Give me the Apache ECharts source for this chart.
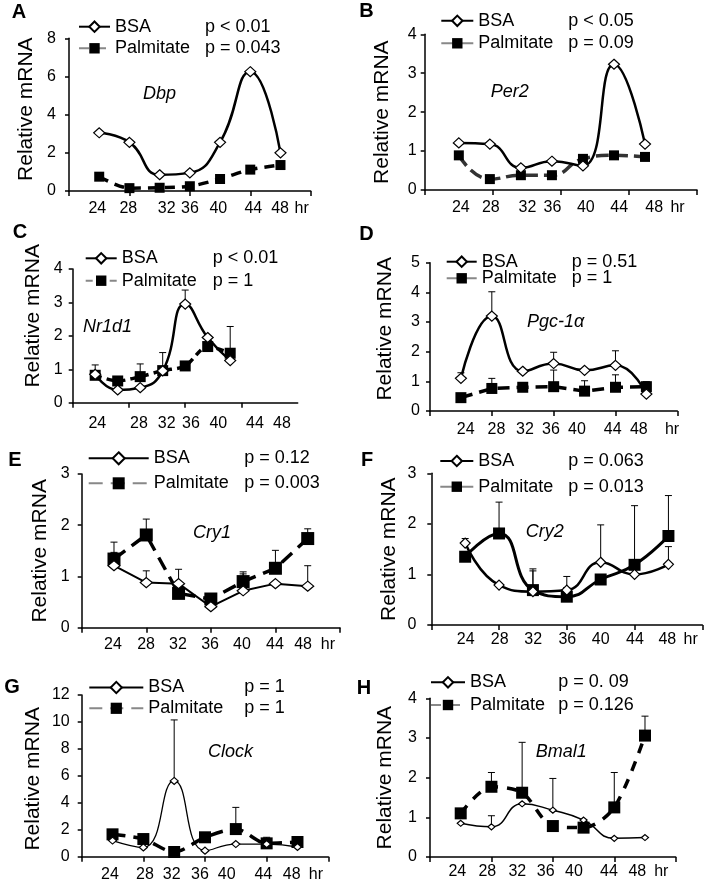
<!DOCTYPE html>
<html><head><meta charset="utf-8">
<script src="https://cdn.jsdelivr.net/npm/echarts@6/dist/echarts.min.js"></script>
<style>html,body{margin:0;padding:0;background:#fff}#c{width:707px;height:885px}</style>
</head><body><div id="c"></div>
<script>
// ---------- data ----------
const hours = [24, 28, 32, 36, 40, 44, 48];
const xTickLabels = ['24', '28', '32', '36', '40', '44', '48', 'hr'];
const panelLetters = ['A', 'B', 'C', 'D', 'E', 'F', 'G', 'H'];
const geneNames = ['Dbp', 'Per2', 'Nr1d1', 'Pgc-1\u03b1', 'Cry1', 'Cry2', 'Clock', 'Bmal1'];
const seriesNames = ['BSA', 'Palmitate'];
const pBSA = ['p < 0.01', 'p < 0.05', 'p < 0.01', 'p = 0.51', 'p = 0.12', 'p = 0.063', 'p = 1', 'p = 0. 09'];
const pPalm = ['p = 0.043', 'p = 0.09', 'p = 1', 'p = 1', 'p = 0.003', 'p = 0.013', 'p = 1', 'p = 0.126'];
const yMaxes = [8, 4, 4, 5, 3, 3, 12, 4];
const ySteps = [2, 1, 1, 1, 1, 1, 2, 1];
const yTitle = 'Relative mRNA';

const bsaDbp   = [3.05, 2.55, 0.85, 0.95, 2.55, 6.25, 2.00];
const palmDbp  = [0.75, 0.15, 0.17, 0.25, 0.63, 1.12, 1.36];
const bsaErrDbp  = [null, null, null, null, null, null, null];
const palmErrDbp = [null, null, null, null, null, null, null];

const bsaPer2  = [1.21, 1.18, 0.57, 0.74, 0.62, 3.23, 1.18];
const palmPer2 = [0.89, 0.28, 0.38, 0.38, 0.80, 0.89, 0.85];
const bsaErrPer2  = [null, null, null, null, null, null, null];
const palmErrPer2 = [null, null, null, null, null, null, null];

const bsaNr1d1  = [0.85, 0.38, 0.45, 0.95, 2.95, 1.95, 1.26];
const palmNr1d1 = [0.82, 0.65, 0.78, 0.96, 1.10, 1.68, 1.48];
const bsaErrNr1d1  = [0.28, null, null, 0.55, 0.42, null, null];
const palmErrNr1d1 = [null, null, 0.38, null, null, null, 0.80];

const bsaPgc  = [1.10, 3.20, 1.34, 1.60, 1.37, 1.54, 0.57];
const palmPgc = [0.45, 0.76, 0.80, 0.82, 0.67, 0.80, 0.82];
const bsaErrPgc  = [0.19, 0.82, null, 0.38, null, 0.49, null];
const palmErrPgc = [null, 0.34, null, 0.56, 0.35, 0.42, 0.17];

const bsaCry1  = [1.21, 0.88, 0.86, 0.41, 0.72, 0.86, 0.81];
const palmCry1 = [1.34, 1.81, 0.67, 0.56, 0.90, 1.16, 1.74];
const bsaErrCry1  = [0.26, 0.23, 0.28, null, 0.37, null, 0.40];
const palmErrCry1 = [0.33, 0.31, null, null, 0.15, 0.35, 0.19];

const bsaCry2  = [1.62, 0.79, 0.66, 0.69, 1.24, 1.00, 1.20];
const palmCry2 = [1.35, 1.81, 0.69, 0.56, 0.90, 1.19, 1.76];
const bsaErrCry2  = [0.09, null, 0.45, 0.27, 0.74, null, 0.35];
const palmErrCry2 = [null, 0.62, 0.38, 0.18, null, 1.17, 0.80];

const bsaClock  = [1.20, 0.69, 5.62, 0.45, 0.94, 0.94, 0.72];
const palmClock = [1.66, 1.31, 0.35, 1.44, 2.05, 0.99, 1.09];
const bsaErrClock  = [null, null, 4.53, null, null, null, null];
const palmErrClock = [null, null, null, null, 1.61, 0.45, null];

const bsaBmal1  = [0.85, 0.76, 1.34, 1.18, 0.93, 0.47, 0.49];
const palmBmal1 = [1.10, 1.77, 1.62, 0.78, 0.74, 1.25, 3.06];
const bsaErrBmal1  = [null, 0.28, null, 0.80, null, null, null];
const palmErrBmal1 = [null, 0.36, 1.27, null, null, 0.88, 0.49];

const panelData = [
  [bsaDbp, palmDbp, bsaErrDbp, palmErrDbp],
  [bsaPer2, palmPer2, bsaErrPer2, palmErrPer2],
  [bsaNr1d1, palmNr1d1, bsaErrNr1d1, palmErrNr1d1],
  [bsaPgc, palmPgc, bsaErrPgc, palmErrPgc],
  [bsaCry1, palmCry1, bsaErrCry1, palmErrCry1],
  [bsaCry2, palmCry2, bsaErrCry2, palmErrCry2],
  [bsaClock, palmClock, bsaErrClock, palmErrClock],
  [bsaBmal1, palmBmal1, bsaErrBmal1, palmErrBmal1]
];

// ---------- layout & style ----------
const FONT = '"Liberation Sans", Arial, sans-serif';
const layout = [
  {grid:{left:69, top:38.3, width:241.7, height:152.7}, x:[20,52],
   labelAt:[23.75,27.85,32.94,36.02,39.77,44.4,47.94,50.81], lblMargin:10, yMargin:13, nameGap:32, namePad:[0,0,0,11],
   legend:{left:78, iw:31, ih:13, rows:[26.7,48.3], nW:90}, letter:[19,12], gene:[143,94],
   bsa:{smooth:true, width:2.5, size:[11,10]}, palm:{smooth:0.3, width:3.5, dash:[10,7], size:10, color:'#000'}},
  {grid:{left:424.7, top:34.3, width:272.3, height:155.7}, x:[19.6,54.7],
   labelAt:[24.25,28.12,32.84,36.06,40.37,44.67,49.19,52.19], lblMargin:10, yMargin:8, nameGap:32, namePad:0,
   legend:{left:440.3, iw:32, ih:13, rows:[20.8,43.3], nW:90}, letter:[366.5,11], gene:[490.7,91.7],
   bsa:{smooth:true, width:2.5, size:[11,10]}, palm:{smooth:true, width:3.5, dash:[13,6], size:10, color:'#333'}},
  {grid:{left:72.7, top:269, width:225, height:133.7}, x:[20,60],
   labelAt:[24.37,31.79,36.71,41.03,45.88,52.41,57.21,60], lblMargin:13, yMargin:10, nameGap:29, namePad:[0,0,0,40],
   legend:{left:84.7, iw:31, ih:13, rows:[258.3,280.7], nW:91}, letter:[20,232.5], gene:[83,327.3],
   bsa:{smooth:true, width:2.5, size:[11,10]}, palm:{smooth:0.3, width:3.5, dash:[7,5], size:11, color:'#000'}},
  {grid:{left:430, top:262.7, width:247.3, height:148.3}, x:[20,52],
   labelAt:[24.62,28.6,32.29,35.66,39.02,43.64,47.02,51.32], lblMargin:11, yMargin:10, nameGap:34, namePad:[0,0,0,16],
   legend:{left:445.7, iw:30, ih:13, rows:[261.7,278.3], nW:90}, letter:[366.5,234], gene:[527,321.7],
   bsa:{smooth:true, width:2.5, size:[11,10]}, palm:{smooth:false, width:3.5, dash:[12,7], size:11, color:'#000'}},
  {grid:{left:81.7, top:474, width:258.3, height:153.7}, x:[20,52],
   labelAt:[23.88,27.97,31.93,35.9,39.86,43.95,47.42,50.51], lblMargin:9, yMargin:12, nameGap:31, namePad:0,
   legend:{left:87.7, iw:60, ih:15, rows:[458.3,483.3], nW:90.6}, letter:[15,460.5], gene:[193,533],
   bsa:{smooth:false, width:2, size:[12,10]}, palm:{smooth:false, width:3.5, dash:[14,8], size:13, color:'#000'}},
  {grid:{left:431.3, top:473.3, width:271, height:151.7}, x:[20,52],
   labelAt:[24.06,28.08,32.04,36.06,40,44.05,47.87,50.63], lblMargin:7, yMargin:15, nameGap:32, namePad:0,
   legend:{left:439.3, iw:33, ih:13, rows:[461,486.7], nW:90}, letter:[367,460], gene:[525.7,532.3],
   bsa:{smooth:true, width:2.5, size:[10,10]}, palm:{smooth:true, width:3, dash:'solid', size:12, color:'#000'}},
  {grid:{left:81.7, top:695, width:246.6, height:161.7}, x:[20,52],
   labelAt:[23.67,28.2,31.68,35.35,38.82,43.57,47.25,50.4], lblMargin:10, yMargin:12, nameGap:38, namePad:[0,6,0,0],
   legend:{left:88.3, iw:54, ih:14, rows:[687.5,708.3], nW:96}, letter:[12,687.7], gene:[208,752.3],
   bsa:{smooth:true, width:1.3, size:[8,7]}, palm:{smooth:0.3, width:3.5, dash:[13,8], size:12, color:'#000'}},
  {grid:{left:430, top:698.3, width:245.7, height:158.7}, x:[20,52],
   labelAt:[23.56,27.46,31.37,35.07,38.75,43.31,47.0,50.12], lblMargin:7, yMargin:13, nameGap:34, namePad:0,
   legend:{left:430, iw:34, ih:13, rows:[682.3,705], nW:88.3}, letter:[364,688], gene:[535.7,752.3],
   bsa:{smooth:true, width:1.5, size:[7,6]}, palm:{smooth:0.3, width:3.5, dash:[10,9], size:12, color:'#000'}}
];

// ---------- build ----------
const legendText = {};
const grids = [], xAxes = [], yAxes = [], series = [], legends = [], graphics = [];

function errSeries(name, idx, vals, errs) {
  const data = hours.map((h, k) => [h, vals[k], errs[k]]).filter(d => d[2] != null);
  if (!data.length) return null;
  return {
    type: 'custom', name, xAxisIndex: idx, yAxisIndex: idx, z: 1, silent: true,
    encode: {x: 0, y: 1}, data,
    renderItem: (params, api) => {
      const x = api.value(0), y = api.value(1), e = api.value(2);
      const p0 = api.coord([x, y]), p1 = api.coord([x, y + e]);
      const st = {stroke: '#000', lineWidth: 1};
      return {type: 'group', children: [
        {type: 'line', shape: {x1: p0[0], y1: p0[1], x2: p1[0], y2: p1[1]}, style: st},
        {type: 'line', shape: {x1: p1[0] - 3.5, y1: p1[1], x2: p1[0] + 3.5, y2: p1[1]}, style: st}
      ]};
    }
  };
}

panelData.forEach((P, i) => {
  const L = layout[i];
  const letter = panelLetters[i];
  const [bsa, palm, bsaErr, palmErr] = P;
  grids.push(Object.assign({}, L.grid));
  const [xmin, xmax] = L.x;
  const ticks = [0, 1, 2, 3, 4].map(k => xmin + k * (xmax - xmin) / 4);
  const labelAt = L.labelAt;
  xAxes.push({
    type: 'value', gridIndex: i, min: xmin, max: xmax,
    axisLine: {show: true, onZero: false, lineStyle: {color: '#000', width: 1.5}},
    axisTick: {show: true, customValues: ticks, length: 5, lineStyle: {color: '#000', width: 1.5}},
    axisLabel: {
      show: true, customValues: labelAt, margin: L.lblMargin, fontSize: 16, color: '#000', fontFamily: FONT,
      formatter: v => {
        let best = 0, bd = Infinity;
        labelAt.forEach((p, k) => { const d = Math.abs(p - v); if (d < bd) { bd = d; best = k; } });
        return xTickLabels[best];
      }
    },
    splitLine: {show: false}
  });
  yAxes.push({
    type: 'value', gridIndex: i, min: 0, max: yMaxes[i], interval: ySteps[i],
    axisLine: {show: true, lineStyle: {color: '#000', width: 1.5}},
    axisTick: {show: true, length: 4, lineStyle: {color: '#000', width: 1.5}},
    axisLabel: {fontSize: 16, color: '#000', margin: L.yMargin, fontFamily: FONT},
    splitLine: {show: false},
    name: yTitle, nameLocation: 'middle', nameGap: L.nameGap,
    nameTextStyle: {fontSize: 21, color: '#000', fontFamily: FONT, padding: L.namePad}
  });

  const bsaName = letter + ':' + seriesNames[0];
  const palmName = letter + ':' + seriesNames[1];
  legendText[bsaName] = [seriesNames[0], pBSA[i]];
  legendText[palmName] = [seriesNames[1], pPalm[i]];

  const eb = errSeries(letter + ':errBSA', i, bsa, bsaErr);
  const ep = errSeries(letter + ':errPalm', i, palm, palmErr);
  if (eb) series.push(eb);
  if (ep) series.push(ep);

  series.push({
    type: 'line', name: palmName, xAxisIndex: i, yAxisIndex: i, z: 3,
    data: hours.map((h, k) => [h, palm[k]]),
    smooth: L.palm.smooth, symbol: 'rect', symbolSize: L.palm.size,
    itemStyle: {color: '#000'},
    lineStyle: {color: L.palm.color, width: L.palm.width, type: L.palm.dash}
  });
  series.push({
    type: 'line', name: bsaName, xAxisIndex: i, yAxisIndex: i, z: 4,
    data: hours.map((h, k) => [h, bsa[k]]),
    smooth: L.bsa.smooth, symbol: 'diamond', symbolSize: L.bsa.size,
    itemStyle: {color: '#fff', borderColor: '#000', borderWidth: 1.2},
    lineStyle: {color: '#000', width: L.bsa.width}
  });

  const lg = L.legend;
  [bsaName, palmName].forEach((nm, r) => {
    const leg = {
      left: lg.left, top: lg.rows[r] - 10, orient: 'horizontal', padding: 0,
      itemWidth: lg.iw, itemHeight: lg.ih, selectedMode: false, data: [nm],
      formatter: n => '{n|' + legendText[n][0] + '}{p|' + legendText[n][1] + '}',
      textStyle: {color: '#000', fontSize: 18, lineHeight: 20, fontFamily: FONT,
        rich: {n: {width: lg.nW, fontSize: 18, lineHeight: 20, fontFamily: FONT, color: '#000'},
               p: {fontSize: 18, lineHeight: 20, fontFamily: FONT, color: '#000'}}}
    };
    if (r === 1) leg.lineStyle = {color: '#888', width: 2};
    legends.push(leg);
  });

  graphics.push({type: 'text', x: L.letter[0], y: L.letter[1], z: 10,
    style: {text: letter, font: 'bold 20px ' + FONT, fill: '#000', align: 'center', verticalAlign: 'middle'}});
  graphics.push({type: 'text', x: L.gene[0], y: L.gene[1], z: 10,
    style: {text: geneNames[i], font: 'italic 18px ' + FONT, fill: '#000', align: 'left', verticalAlign: 'middle'}});
});

const chart = echarts.init(document.getElementById('c'));
chart.setOption({
  animation: false,
  backgroundColor: '#fff',
  textStyle: {fontFamily: FONT},
  grid: grids, xAxis: xAxes, yAxis: yAxes,
  legend: legends, series, graphic: graphics
});
</script>
</body></html>
